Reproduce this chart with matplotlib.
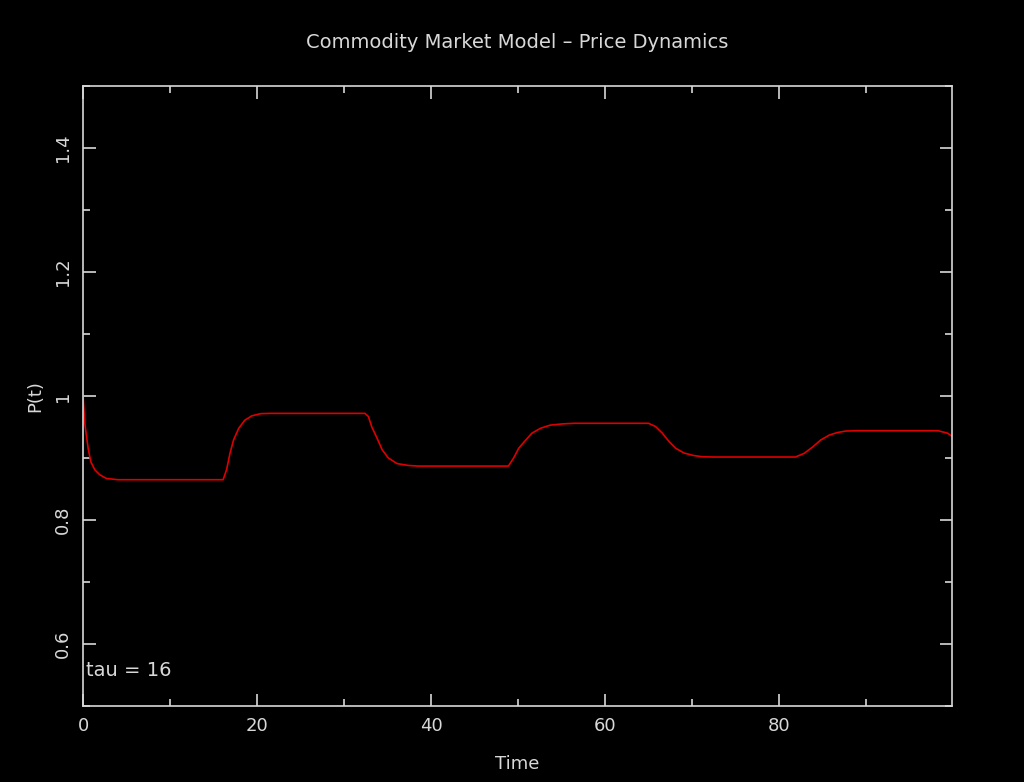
import numpy as np
import matplotlib
matplotlib.use("Agg")
import matplotlib.pyplot as plt
from matplotlib.ticker import MultipleLocator

# values
time = [0, 0.2, 0.58, 0.89, 1.35, 1.92, 2.68, 4.0,
        16.1, 16.5, 16.9, 17.3, 17.9, 18.6, 19.4, 20.4, 21.5,
        32.4, 32.8, 33.2, 33.8, 34.4, 35.1, 36.1, 37.4, 38.5,
        48.9, 49.5, 50.1, 50.9, 51.6, 52.6, 53.7, 55.1, 56.5,
        65.0, 65.8, 66.6, 67.4, 68.1, 69.1, 70.2, 71.2, 72.5,
        81.9, 82.9, 83.9, 84.8, 85.8, 86.7, 87.7, 89.0,
        98.3, 99.4, 99.9]
price = [1.0, 0.956, 0.916, 0.894, 0.881, 0.873, 0.867, 0.865,
         0.865, 0.881, 0.908, 0.929, 0.948, 0.961, 0.968, 0.9715, 0.972,
         0.972, 0.967, 0.950, 0.932, 0.913, 0.900, 0.891, 0.888, 0.887,
         0.887, 0.900, 0.916, 0.929, 0.940, 0.948, 0.953, 0.955, 0.956,
         0.956, 0.951, 0.940, 0.926, 0.916, 0.908, 0.904, 0.902, 0.9016,
         0.9016, 0.9075, 0.918, 0.929, 0.937, 0.941, 0.9435, 0.944,
         0.944, 0.940, 0.935]
tau = 16

fg = "#d8d8d8"

fig = plt.figure(figsize=(10.24, 7.82), dpi=100, facecolor="black")
ax = fig.add_axes([0.0811, 0.0972, 0.8486, 0.7928], facecolor="black")

ax.plot(time, price, color="#dd0000", lw=1.2)

ax.set_xlim(0, 99.9)
ax.set_ylim(0.5, 1.5)
ax.xaxis.set_major_locator(MultipleLocator(20))
ax.xaxis.set_minor_locator(MultipleLocator(10))
ax.yaxis.set_major_locator(MultipleLocator(0.2))
ax.yaxis.set_minor_locator(MultipleLocator(0.1))
ax.xaxis.set_major_formatter(lambda v, p: f"{v:g}")
ax.yaxis.set_major_formatter(lambda v, p: f"{v:g}")

for s in ax.spines.values():
    s.set_color(fg)
    s.set_linewidth(1.2)
ax.tick_params(which="both", direction="in", top=True, right=True,
               colors=fg, width=1.2, labelsize=13, pad=8)
ax.tick_params(which="major", length=9)
ax.tick_params(which="minor", length=5)
ax.tick_params(axis="y", labelrotation=90)
for lbl in ax.get_yticklabels():
    lbl.set_va("center")

ax.text(0.003, 0.058, f"tau = {tau}", transform=ax.transAxes,
        color=fg, fontsize=14, va="center", ha="left")

fig.text(0.505, 0.946, "Commodity Market Model \u2013 Price Dynamics",
         color=fg, fontsize=14, ha="center", va="center")
fig.text(0.505, 0.023, "Time", color=fg, fontsize=13, ha="center", va="center")
fig.text(0.034, 0.4936, "P(t)", color=fg, fontsize=13, ha="center",
         va="center", rotation=90)

fig.savefig("out.png", dpi=100, facecolor="black")
